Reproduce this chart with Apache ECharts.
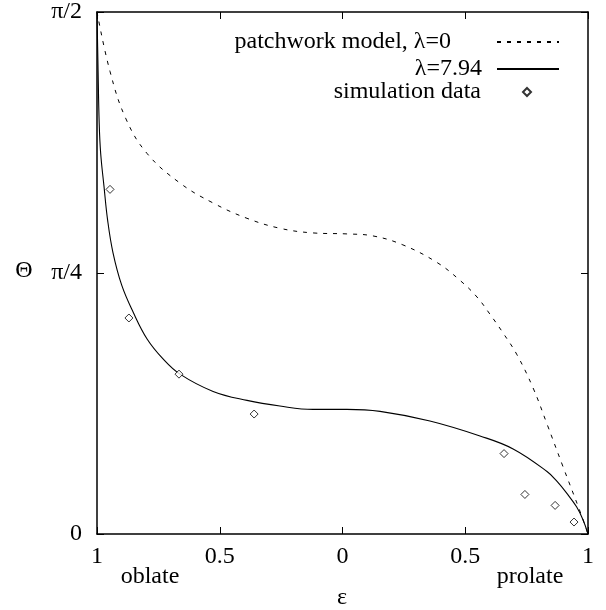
<!DOCTYPE html>
<html>
<head>
<meta charset="utf-8">
<script src="https://cdn.jsdelivr.net/npm/echarts@6/dist/echarts.min.js"></script>
<style>
  html, body { margin: 0; padding: 0; background: #fff; }
  #chart { width: 606px; height: 610px; }
</style>
</head>
<body>
<div id="chart"></div>
<script>
// eps: -1 = oblate end, +1 = prolate end; theta in radians
const epsDashed = [-1, -0.947, -0.882, -0.796, -0.662, -0.527, -0.389, -0.255, -0.12, 0.018, 0.124, 0.246, 0.385, 0.479, 0.548, 0.601, 0.654, 0.711, 0.776, 0.833, 0.898, 0.967, 1];
const thetaDashed = [1.571, 1.392, 1.249, 1.145, 1.056, 0.996, 0.95, 0.92, 0.906, 0.903, 0.897, 0.87, 0.817, 0.763, 0.713, 0.661, 0.605, 0.539, 0.44, 0.331, 0.203, 0.069, 0];

const epsSolid = [-1, -0.996, -0.991, -0.985, -0.9715, -0.957, -0.935, -0.899, -0.853, -0.796, -0.731, -0.662, -0.527, -0.389, -0.255, -0.12, 0.018, 0.153, 0.356, 0.56, 0.695, 0.833, 0.874, 0.914, 0.954, 0.98, 1];
const thetaSolid = [1.571, 1.412, 1.235, 1.145, 1.046, 0.946, 0.847, 0.748, 0.668, 0.587, 0.527, 0.481, 0.429, 0.402, 0.385, 0.375, 0.375, 0.369, 0.34, 0.295, 0.256, 0.188, 0.158, 0.122, 0.081, 0.042, 0];

const epsSim = [-0.947, -0.87, -0.666, -0.36, 0.658, 0.743, 0.866, 0.943];
const thetaSim = [1.037, 0.65, 0.481, 0.361, 0.242, 0.119, 0.086, 0.036];

const seriesNames = ['patchwork model, λ=0', 'λ=7.94', 'simulation data'];
const yTickLabels = ['0', 'π/4', 'π/2'];

const FONT = 'Liberation Serif';
const FS = 24;
const zip = (xs, ys) => xs.map((x, i) => [x, ys[i]]);

const chart = echarts.init(document.getElementById('chart'));

const axisLine = { show: true, onZero: false, lineStyle: { color: '#000', width: 1.5 } };
const axisTick = { show: true, inside: true, length: 7, lineStyle: { color: '#000', width: 1 } };

function xAxisCfg(position, showLabel) {
  return {
    type: 'value', position: position, min: -1, max: 1, interval: 0.5,
    axisLine: axisLine, axisTick: axisTick, splitLine: { show: false },
    axisLabel: {
      show: showLabel, margin: 11, color: '#000', fontFamily: FONT, fontSize: FS,
      formatter: v => String(Math.abs(v))
    }
  };
}

function yAxisCfg(position, showLabel) {
  return {
    type: 'value', position: position, min: 0, max: Math.PI / 2, interval: Math.PI / 4,
    axisLine: axisLine, axisTick: axisTick, splitLine: { show: false },
    axisLabel: {
      show: showLabel, margin: 15, color: '#000', fontFamily: FONT, fontSize: FS,
      formatter: v => yTickLabels[Math.round(v / (Math.PI / 4))]
    }
  };
}

// one legend per row so each row can sit where the original puts it
function legendRow(name, top, right, itemWidth, itemHeight, textPad, hideSymbol) {
  return {
    data: [name], orient: 'vertical', right: right, top: top, padding: 0,
    align: 'right', itemWidth: itemWidth, itemHeight: itemHeight, selectedMode: false,
    itemStyle: hideSymbol ? { opacity: 0, borderWidth: 0 } : {},
    textStyle: { color: '#000', fontFamily: FONT, fontSize: FS, padding: [0, textPad, 0, 0] }
  };
}

function label(text, x, y) {
  return {
    type: 'text', x: x, y: y,
    style: { text: text, fill: '#000', fontFamily: FONT, fontSize: FS, align: 'center', verticalAlign: 'middle' }
  };
}

chart.setOption({
  animation: false,
  grid: { left: 97, right: 18, top: 7, bottom: 76 },
  xAxis: [xAxisCfg('bottom', true), xAxisCfg('top', false)],
  yAxis: [yAxisCfg('left', true), yAxisCfg('right', false)],
  legend: [
    legendRow(seriesNames[0], 30, 46, 62, 20, 41, true),
    legendRow(seriesNames[1], 57, 46, 62, 20, 10, true),
    legendRow(seriesNames[2], 80, 74, 8, 8, 37, false)
  ],
  graphic: [
    label('Θ', 24, 271),
    label('oblate', 150, 577),
    label('prolate', 530, 577),
    label('ε', 342, 598)
  ],
  series: [
    {
      name: seriesNames[0], type: 'line', data: zip(epsDashed, thetaDashed),
      showSymbol: false, symbol: 'none', smooth: 0.4,
      lineStyle: { color: '#000', width: 1, type: [4, 6] },
      itemStyle: { color: '#000' }
    },
    {
      name: seriesNames[1], type: 'line', data: zip(epsSolid, thetaSolid),
      showSymbol: false, symbol: 'none', smooth: 0.4,
      lineStyle: { color: '#000', width: 1.1 },
      itemStyle: { color: '#000' }
    },
    {
      name: seriesNames[2], type: 'scatter', data: zip(epsSim, thetaSim),
      symbol: 'diamond', symbolSize: 8, z: 5,
      itemStyle: { color: '#fff', borderColor: '#000', borderWidth: 1 }
    }
  ]
});
</script>
</body>
</html>
